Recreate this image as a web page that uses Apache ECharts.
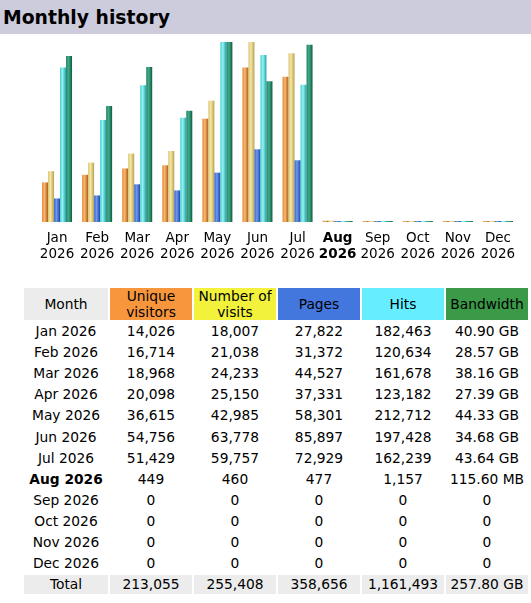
<!DOCTYPE html>
<html>
<head>
<meta charset="utf-8">
<script src="https://cdn.jsdelivr.net/npm/echarts@6/dist/echarts.min.js"></script>
<style>
  html, body { margin: 0; padding: 0; background: #fff; }
  body { width: 531px; height: 603px; position: relative; overflow: hidden; font-family: "DejaVu Sans", Verdana, sans-serif; color: #000; }
  #title { position: absolute; left: 0; top: 0; width: 531px; height: 34px; background: #ccccdd; font-weight: bold; font-size: 18.8px; line-height: 35px; padding-left: 3px; box-sizing: border-box; }
  #chart { position: absolute; left: 0; top: 34px; width: 531px; height: 240px; }
  #tbl { position: absolute; left: 22px; top: 286px; border-collapse: separate; border-spacing: 2px; table-layout: fixed; font-size: 13.8px; }
  #tbl td, #tbl th { padding: 0; text-align: center; height: 19.1px; line-height: 19px; white-space: nowrap; font-weight: normal; }
  #tbl th { height: 32px; line-height: 16px; }
  #tbl .b { font-weight: bold; }
  #tbl tr.total td { background: #ececec; }
</style>
</head>
<body>
<div id="title">Monthly history</div>
<div id="chart"></div>
<table id="tbl"></table>
<script>
  var months = ['Jan', 'Feb', 'Mar', 'Apr', 'May', 'Jun', 'Jul', 'Aug', 'Sep', 'Oct', 'Nov', 'Dec'];
  var year = '2026';
  var currentMonth = 'Aug';

  var visitors = [14026, 16714, 18968, 20098, 36615, 54756, 51429, 449, 0, 0, 0, 0];
  var visits = [18007, 21038, 24233, 25150, 42985, 63778, 59757, 460, 0, 0, 0, 0];
  var pages = [27822, 31372, 44527, 37331, 58301, 85897, 72929, 477, 0, 0, 0, 0];
  var hits = [182463, 120634, 161678, 123182, 212712, 197428, 162239, 1157, 0, 0, 0, 0];
  var bandwidthGB = [40.90, 28.57, 38.16, 27.39, 44.33, 34.68, 43.64, 0.1129, 0, 0, 0, 0];
  var bandwidthText = ['40.90 GB', '28.57 GB', '38.16 GB', '27.39 GB', '44.33 GB', '34.68 GB', '43.64 GB', '115.60 MB', '0', '0', '0', '0'];
  var totals = ['213,055', '255,408', '358,656', '1,161,493', '257.80 GB'];

  var headers = [
    { text: 'Month', bg: '#ececec' },
    { text: 'Unique<br>visitors', bg: '#f8963e' },
    { text: 'Number of<br>visits', bg: '#f2f23c' },
    { text: 'Pages', bg: '#4477dd' },
    { text: 'Hits', bg: '#66eeff' },
    { text: 'Bandwidth', bg: '#3a9a48' }
  ];

  function fmt(n) {
    return n.toString().replace(/\B(?=(\d{3})+(?!\d))/g, ',');
  }

  // horizontal gradient gives the bars their rounded look
  function grad(c0, c1, c2) {
    return new echarts.graphic.LinearGradient(0, 0, 1, 0, [
      { offset: 0, color: c0 },
      { offset: 0.4, color: c1 },
      { offset: 1, color: c2 }
    ]);
  }

  function barSeries(name, data, axis, colors) {
    return {
      name: name,
      type: 'bar',
      yAxisIndex: axis,
      data: data,
      barWidth: 6,
      barGap: '0%',
      barMinHeight: 1,
      silent: true,
      itemStyle: { color: grad(colors[0], colors[1], colors[2]) }
    };
  }

  var chart = echarts.init(document.getElementById('chart'), null, { renderer: 'canvas' });
  chart.setOption({
    animation: false,
    grid: { left: 37, right: 13, top: 8, height: 180 },
    xAxis: {
      type: 'category',
      data: months,
      axisLine: { show: false },
      axisTick: { show: false },
      axisLabel: {
        margin: 8,
        interval: 0,
        color: '#000',
        fontFamily: 'DejaVu Sans',
        fontSize: 13.5,
        lineHeight: 16,
        formatter: function (m) {
          if (m === currentMonth) { return '{b|' + m + '}\n{b|' + year + '}'; }
          return m + '\n' + year;
        },
        rich: { b: { fontWeight: 'bold', fontSize: 13.5, lineHeight: 16, fontFamily: 'DejaVu Sans', color: '#000' } }
      }
    },
    // each group of series is scaled to its own maximum
    yAxis: [
      { type: 'value', min: 0, max: Math.max.apply(null, visits), show: false },
      { type: 'value', min: 0, max: Math.max.apply(null, hits), show: false },
      { type: 'value', min: 0, max: Math.max.apply(null, bandwidthGB), show: false }
    ],
    series: [
      barSeries('Unique visitors', visitors, 0, ['#e08838', '#f9b86c', '#aa5c1c']),
      barSeries('Number of visits', visits, 0, ['#d8c274', '#f6e8a2', '#b8a052']),
      barSeries('Pages', pages, 1, ['#3a62c4', '#6c9af2', '#2242a2']),
      barSeries('Hits', hits, 1, ['#44cccc', '#94f4f4', '#22a2aa']),
      barSeries('Bandwidth', bandwidthGB, 2, ['#228262', '#42aa8a', '#0c5c42'])
    ]
  });

  // table
  var tbl = document.getElementById('tbl');
  var html = '<colgroup><col style="width:84px">';
  for (var c = 0; c < 5; c++) { html += '<col style="width:82px">'; }
  html += '</colgroup><tr>';
  headers.forEach(function (h) {
    html += '<th style="background:' + h.bg + '">' + h.text + '</th>';
  });
  html += '</tr>';
  months.forEach(function (m, i) {
    var cls = m === currentMonth ? ' class="b"' : '';
    html += '<tr><td' + cls + '>' + m + ' ' + year + '</td>' +
      '<td>' + fmt(visitors[i]) + '</td>' +
      '<td>' + fmt(visits[i]) + '</td>' +
      '<td>' + fmt(pages[i]) + '</td>' +
      '<td>' + fmt(hits[i]) + '</td>' +
      '<td>' + bandwidthText[i] + '</td></tr>';
  });
  html += '<tr class="total"><td>Total</td>';
  totals.forEach(function (t) { html += '<td>' + t + '</td>'; });
  html += '</tr>';
  tbl.innerHTML = html;
</script>
</body>
</html>
